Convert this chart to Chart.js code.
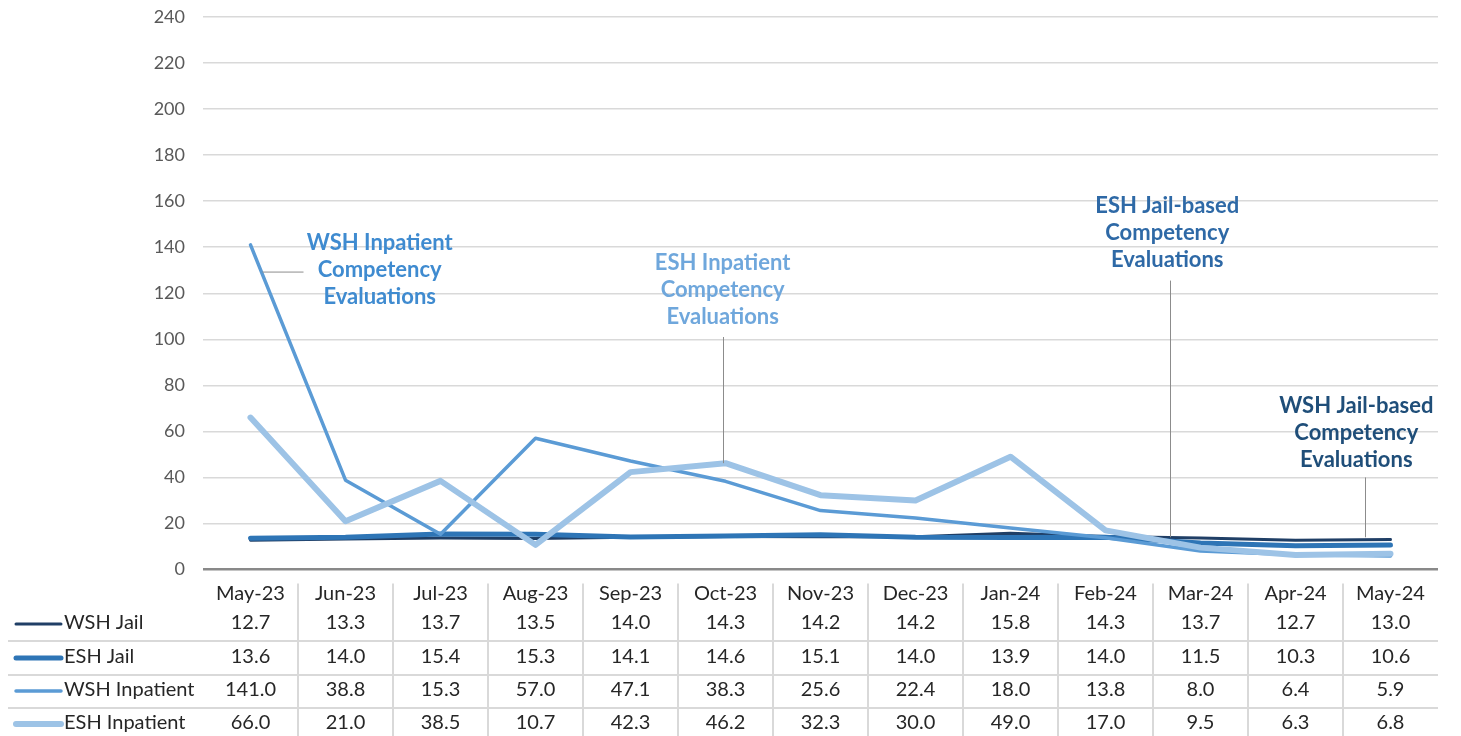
<!DOCTYPE html>
<html>
<head>
<meta charset="utf-8">
<script src="https://cdn.jsdelivr.net/npm/chart.js@4"></script>
<style>
  body { margin: 0; background: #fff; }
  #wrap { width: 1461px; height: 736px; }
</style>
</head>
<body>
<div id="wrap"><canvas id="lineChart" width="1461" height="736"></canvas></div>
<script>
var months = ["May-23", "Jun-23", "Jul-23", "Aug-23", "Sep-23", "Oct-23", "Nov-23", "Dec-23", "Jan-24", "Feb-24", "Mar-24", "Apr-24", "May-24"];
var seriesNames = ["WSH Jail", "ESH Jail", "WSH Inpatient", "ESH Inpatient"];
var wshJail = [12.7, 13.3, 13.7, 13.5, 14.0, 14.3, 14.2, 14.2, 15.8, 14.3, 13.7, 12.7, 13.0];
var eshJail = [13.6, 14.0, 15.4, 15.3, 14.1, 14.6, 15.1, 14.0, 13.9, 14.0, 11.5, 10.3, 10.6];
var wshInpatient = [141.0, 38.8, 15.3, 57.0, 47.1, 38.3, 25.6, 22.4, 18.0, 13.8, 8.0, 6.4, 5.9];
var eshInpatient = [66.0, 21.0, 38.5, 10.7, 42.3, 46.2, 32.3, 30.0, 49.0, 17.0, 9.5, 6.3, 6.8];
var yTicks = [0, 20, 40, 60, 80, 100, 120, 140, 160, 180, 200, 220, 240];

var colors = ["#203f66", "#2e75b6", "#5b9bd5", "#9dc3e6"];
var widths = [3, 5, 3.5, 6];
var FONT = "Lato, 'Open Sans', sans-serif";

// callout labels: index/value position of the text, leader line ends
var callouts = [
  {lines: ["WSH Inpatient", "Competency", "Evaluations"], color: "#3f8bd0", x: 1.36, y: 141.8,
   leader: {x1: 0.12, y1: 129.2, x2: 0.55, y2: 129.2}},
  {lines: ["ESH Inpatient", "Competency", "Evaluations"], color: "#6fa7dc", x: 4.97, y: 133.1,
   leader: {x1: 4.97, y1: 101, x2: 4.97, y2: 46.2}},
  {lines: ["ESH Jail-based", "Competency", "Evaluations"], color: "#2e69a6", x: 9.65, y: 157.9,
   leader: {x1: 9.68, y1: 125.5, x2: 9.68, y2: 14.0}},
  {lines: ["WSH Jail-based", "Competency", "Evaluations"], color: "#1f4e79", x: 11.64, y: 71.0,
   leader: {x1: 11.73, y1: 40, x2: 11.73, y2: 14.0}}
];

function getRows(){
  return [wshJail, eshJail, wshInpatient, eshInpatient];
}

// annotations drawn on top of the lines
var calloutPlugin = {
  id: "callouts",
  afterDatasetsDraw: function(chart){
    var ctx = chart.ctx;
    var xs = chart.scales.x, ys = chart.scales.y;
    ctx.save();
    callouts.forEach(function(c){
      var l = c.leader;
      ctx.strokeStyle = "#8c8c8c";
      ctx.lineWidth = 1;
      ctx.beginPath();
      ctx.moveTo(Math.round(xs.getPixelForValue(l.x1)) + 0.5, ys.getPixelForValue(l.y1));
      ctx.lineTo(Math.round(xs.getPixelForValue(l.x2)) + 0.5, ys.getPixelForValue(l.y2));
      ctx.stroke();
      ctx.fillStyle = c.color;
      ctx.font = "bold 22px " + FONT;
      ctx.textAlign = "center";
      ctx.textBaseline = "middle";
      var cx = xs.getPixelForValue(c.x);
      var cy = ys.getPixelForValue(c.y);
      c.lines.forEach(function(t, i){
        ctx.fillText(t, cx, cy + i * 27);
      });
    });
    ctx.restore();
  }
};

// data table under the plot
var tablePlugin = {
  id: "dataTable",
  afterDraw: function(chart){
    var ctx = chart.ctx;
    var xs = chart.scales.x;
    var area = chart.chartArea;
    var rows = getRows();
    var step = xs.getPixelForValue(1) - xs.getPixelForValue(0);
    var headerY = area.bottom + 24;
    var rowY = [623, 657, 690, 723];
    ctx.save();
    // grid of the table
    ctx.strokeStyle = "#d9d9d9";
    ctx.lineWidth = 2;
    for (var i = 1; i < months.length; i++){
      var bx = Math.round(xs.getPixelForValue(i) - step / 2);
      ctx.beginPath();
      ctx.moveTo(bx, area.bottom + 14);
      ctx.lineTo(bx, chart.height);
      ctx.stroke();
    }
    for (var r = 0; r < rows.length - 1; r++){
      var hy = Math.round((rowY[r] + rowY[r + 1]) / 2) + 1;
      ctx.beginPath();
      ctx.moveTo(8, hy);
      ctx.lineTo(area.right, hy);
      ctx.stroke();
    }
    ctx.font = "20px " + FONT;
    ctx.fillStyle = "#262626";
    ctx.textAlign = "center";
    ctx.textBaseline = "middle";
    months.forEach(function(m, i){
      ctx.fillText(m, xs.getPixelForValue(i), headerY);
    });
    rows.forEach(function(vals, r){
      vals.forEach(function(v, i){
        ctx.fillText(v.toFixed(1), xs.getPixelForValue(i), rowY[r]);
      });
    });
    // legend keys and series names
    ctx.textAlign = "left";
    seriesNames.forEach(function(name, r){
      ctx.strokeStyle = colors[r];
      ctx.lineWidth = widths[r];
      ctx.lineCap = "round";
      ctx.beginPath();
      ctx.moveTo(16, rowY[r] + 1);
      ctx.lineTo(61, rowY[r] + 1);
      ctx.stroke();
      ctx.fillStyle = "#262626";
      ctx.fillText(name, 64, rowY[r]);
    });
    ctx.restore();
  }
};

function drawChart(){
  var CHART = document.getElementById("lineChart");
  var rows = getRows();
  var datasets = seriesNames.map(function(name, i){
    return {
      label: name,
      data: rows[i],
      borderColor: colors[i],
      backgroundColor: colors[i],
      borderWidth: widths[i],
      borderCapStyle: "round",
      borderJoinStyle: "round",
      pointRadius: 0,
      tension: 0,
      order: 3 - i
    };
  });
  new Chart(CHART, {
    type: "line",
    data: { labels: months, datasets: datasets },
    options: {
      responsive: false,
      animation: false,
      layout: { padding: { left: 0, right: 23, top: 17, bottom: 166.5 } },
      plugins: { legend: { display: false }, tooltip: { enabled: false } },
      scales: {
        x: { display: false, offset: true },
        y: {
          min: 0, max: 240,
          afterFit: function(s){
            s.width = 203;
            s.paddingTop = 0;
            s.paddingBottom = 0;
          },
          afterBuildTicks: function(s){
            s.ticks = yTicks.map(function(v){ return {value: v}; });
          },
          border: { display: false },
          grid: {
            drawTicks: false,
            color: function(c){ return c.tick.value === 0 ? "#898989" : "#d9d9d9"; },
            lineWidth: function(c){ return c.tick.value === 0 ? 2.5 : 1.5; }
          },
          ticks: { padding: 18, color: "#595959", font: { family: FONT, size: 18 } }
        }
      }
    },
    plugins: [calloutPlugin, tablePlugin]
  });
}

drawChart();
</script>
</body>
</html>
